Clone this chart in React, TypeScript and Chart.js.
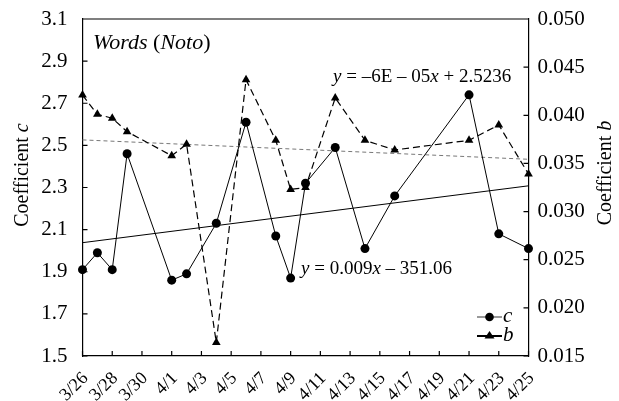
import React, { useEffect, useRef } from 'react';
import { Chart, registerables } from 'chart.js';
Chart.register(...registerables);

const tickDates = ['3/26','3/27','3/28','3/29','3/30','3/31','4/1','4/2','4/3','4/4','4/5','4/6','4/7','4/8','4/9','4/10','4/11','4/12','4/13','4/14','4/15','4/16','4/17','4/18','4/19','4/20','4/21','4/22','4/23','4/24','4/25'];
const obsDates = ['3/26','3/27','3/28','3/29','4/1','4/2','4/4','4/6','4/8','4/9','4/10','4/12','4/14','4/16','4/21','4/23','4/25'];
const cValues = [1.91, 1.99, 1.91, 2.46, 1.86, 1.89, 2.13, 2.61, 2.07, 1.87, 2.32, 2.49, 2.01, 2.26, 2.74, 2.08, 2.01];
const bValues = [0.0421, 0.0401, 0.0397, 0.0383, 0.0358, 0.0370, 0.0164, 0.0437, 0.0374, 0.0323, 0.0325, 0.0418, 0.0374, 0.0364, 0.0374, 0.0390, 0.0339];
const trendDates = ['3/26', '4/25'];
const cTrend = [2.038, 2.308];
const bTrend = [2.526, 2.434];
const leftRange = [1.5, 3.1, 0.2];
const rightRange = [0.015, 0.05, 0.005];

const SERIF = '"Liberation Serif", "Times New Roman", serif';

type Part = [string, boolean];
function drawRich(ctx: CanvasRenderingContext2D, parts: Part[], x: number, y: number, size: number) {
  let cx = x;
  for (const [t, it] of parts) {
    ctx.font = `${it ? 'italic ' : ''}${size}px ${SERIF}`;
    ctx.fillText(t, cx, y);
    cx += ctx.measureText(t).width;
  }
}

const decor = {
  id: 'decor',
  afterDraw(chart: any) {
    const { ctx, chartArea } = chart;
    const { left, right, top, bottom } = chartArea;
    const sx = chart.scales.x, sy = chart.scales.y, sy1 = chart.scales.y1;
    ctx.save();
    ctx.strokeStyle = '#000';
    ctx.lineWidth = 1.2;
    ctx.beginPath();
    ctx.moveTo(left, top); ctx.lineTo(right, top);
    sy.ticks.forEach((_: any, i: number) => {
      const p = sy.getPixelForTick(i);
      ctx.moveTo(left, p); ctx.lineTo(left + 5, p);
    });
    sy1.ticks.forEach((_: any, i: number) => {
      const p = sy1.getPixelForTick(i);
      ctx.moveTo(right, p); ctx.lineTo(right - 5, p);
    });
    sx.ticks.forEach((_: any, i: number) => {
      if (i % 2 !== 0) return;
      const p = sx.getPixelForTick(i);
      ctx.moveTo(p, bottom); ctx.lineTo(p, bottom - 5);
    });
    ctx.stroke();

    ctx.fillStyle = '#000';
    ctx.textBaseline = 'alphabetic';
    ctx.textAlign = 'left';
    drawRich(ctx, [['Words', true], [' (', false], ['Noto', true], [')', false]], 93, 49, 22);
    drawRich(ctx, [['y', true], [' = –6E – 05', false], ['x', true], [' + 2.5236', false]], 333, 82, 19);
    drawRich(ctx, [['y', true], [' = 0.009', false], ['x', true], [' – 351.06', false]], 301, 274, 19);

    // legend
    ctx.strokeStyle = '#555';
    ctx.lineWidth = 1.2;
    ctx.beginPath(); ctx.moveTo(477, 317); ctx.lineTo(502, 317); ctx.stroke();
    ctx.beginPath(); ctx.arc(489.5, 317, 4.3, 0, Math.PI * 2); ctx.fill();
    ctx.strokeStyle = '#000';
    ctx.lineWidth = 2;
    ctx.beginPath(); ctx.moveTo(477, 336); ctx.lineTo(502, 336); ctx.stroke();
    ctx.beginPath(); ctx.moveTo(489.5, 331); ctx.lineTo(494.5, 338.5); ctx.lineTo(484.5, 338.5); ctx.closePath(); ctx.fill();
    drawRich(ctx, [['c', true]], 503, 322, 21);
    drawRich(ctx, [['b', true]], 503, 341, 21);

    // axis titles
    const title = (x: number, y: number, suffix: string) => {
      ctx.save();
      ctx.translate(x, y);
      ctx.rotate(-Math.PI / 2);
      const a = 'Coefficient ';
      ctx.font = `20px ${SERIF}`;
      const wa = ctx.measureText(a).width;
      ctx.font = `italic 20px ${SERIF}`;
      const wb = ctx.measureText(suffix).width;
      ctx.textAlign = 'left';
      drawRich(ctx, [[a, false], [suffix, true]], -(wa + wb) / 2, 0, 20);
      ctx.restore();
    };
    title(28, 175, 'c');
    title(611, 173, 'b');
    ctx.restore();
  },
};

export default function App() {
  const ref = useRef<HTMLCanvasElement>(null);
  useEffect(() => {
    const pts = (vals: number[], dates: string[]) => vals.map((v, i) => ({ x: dates[i], y: v }));
    const chart = new Chart(ref.current!, {
      type: 'line',
      data: {
        labels: tickDates,
        datasets: [
          {
            label: 'c', data: pts(cValues, obsDates) as any, yAxisID: 'y',
            borderColor: '#000', backgroundColor: '#000', borderWidth: 1,
            pointStyle: 'circle', pointRadius: 4.5, pointBorderWidth: 0, fill: false, tension: 0,
          },
          {
            label: 'b', data: pts(bValues, obsDates) as any, yAxisID: 'y1',
            borderColor: '#000', backgroundColor: '#000', borderWidth: 1.2, borderDash: [7, 4],
            pointStyle: 'triangle', pointRadius: 5, pointBorderWidth: 0, fill: false, tension: 0,
          },
          {
            label: 'cTrend', data: pts(cTrend, trendDates) as any, yAxisID: 'y',
            borderColor: '#000', borderWidth: 1, pointRadius: 0, fill: false,
          },
          {
            label: 'bTrend', data: pts(bTrend, trendDates) as any, yAxisID: 'y',
            borderColor: '#777', borderWidth: 1, borderDash: [4, 3], pointRadius: 0, fill: false,
          },
        ],
      },
      options: {
        animation: false,
        responsive: true,
        maintainAspectRatio: false,
        layout: { padding: { top: 19, left: 0, right: 0, bottom: 0 } },
        plugins: { legend: { display: false }, tooltip: { enabled: false } },
        scales: {
          x: {
            type: 'category',
            offset: false,
            grid: { display: false, drawTicks: false },
            border: { display: true, color: '#000', width: 1.2 },
            ticks: {
              autoSkip: false, minRotation: 45, maxRotation: 45, padding: 12, labelOffset: 3,
              color: '#000', font: { family: SERIF, size: 18 },
              callback: (_v: any, i: number) => (i % 2 === 0 ? tickDates[i] : ''),
            },
            afterFit: (s: any) => { s.height = 45; },
          },
          y: {
            position: 'left', min: leftRange[0], max: leftRange[1],
            grid: { display: false, drawTicks: false },
            border: { display: true, color: '#000', width: 1.2 },
            ticks: {
              stepSize: leftRange[2], padding: 15, color: '#000', font: { family: SERIF, size: 21 },
              callback: (v: any) => Number(v).toFixed(1),
            },
            afterFit: (s: any) => { s.width = 82.5; s.paddingTop = 0; s.paddingBottom = 0; },
          },
          y1: {
            position: 'right', min: rightRange[0], max: rightRange[1],
            grid: { display: false, drawTicks: false },
            border: { display: true, color: '#000', width: 1.2 },
            ticks: {
              stepSize: rightRange[2], padding: 9, color: '#000', font: { family: SERIF, size: 21 },
              callback: (v: any) => Number(v).toFixed(3),
            },
            afterFit: (s: any) => { s.width = 90.5; s.paddingTop = 0; s.paddingBottom = 0; },
          },
        },
      },
      plugins: [decor],
    });
    return () => chart.destroy();
  }, []);
  return (
    <div style={{ position: 'absolute', left: 0, top: 0, width: 619, height: 401, background: '#fff' }}>
      <canvas ref={ref} />
    </div>
  );
}
